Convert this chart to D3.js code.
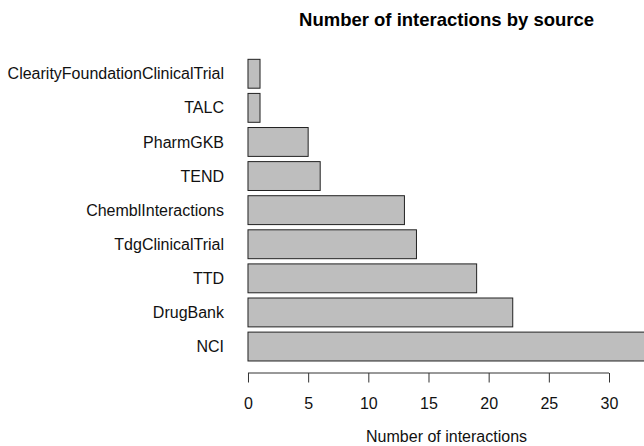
<!DOCTYPE html>
<html>
<head>
<meta charset="utf-8">
<script src="https://cdn.jsdelivr.net/npm/d3@7"></script>
<style>
  body { margin: 0; background: #fff; }
  svg { font-family: "Liberation Sans", Arial, sans-serif; }
</style>
</head>
<body>
<script>
// sources listed top to bottom, as drawn
const sources = ["ClearityFoundationClinicalTrial", "TALC", "PharmGKB", "TEND",
  "ChemblInteractions", "TdgClinicalTrial", "TTD", "DrugBank", "NCI"];
const counts = [1, 1, 5, 6, 13, 14, 19, 22, 33];
const tickValues = [0, 5, 10, 15, 20, 25, 30];

const width = 644, height = 446;

const svg = d3.select("body")
  .append("svg")
  .attr("width", width)
  .attr("height", height);

// R style: 4% padding around the data range
const x = d3.scaleLinear()
  .domain([-1.32, 34.32])
  .range([232.1, 661]);

const y = d3.scaleBand()
  .domain(sources)
  .range([54.1, 366.2])
  .padding(0.153);

svg.append("g")
  .selectAll("rect")
  .data(sources)
  .enter()
    .append("rect")
    .attr("x", x(0))
    .attr("y", d => y(d))
    .attr("width", (d, i) => x(counts[i]) - x(0))
    .attr("height", y.bandwidth())
    .attr("fill", "#bebebe")
    .attr("stroke", "#222")
    .attr("stroke-width", 1);

svg.append("g")
  .selectAll("text")
  .data(sources)
  .enter()
    .append("text")
    .attr("x", 224)
    .attr("y", d => y(d) + y.bandwidth() / 2)
    .attr("dy", "0.35em")
    .attr("text-anchor", "end")
    .attr("font-size", 16)
    .attr("fill", "#111")
    .text(d => d);

const axis = svg.append("g")
  .attr("transform", "translate(0,373)")
  .call(d3.axisBottom(x).tickValues(tickValues).tickSize(9.5).tickPadding(15).tickSizeOuter(0));

axis.select(".domain")
  .attr("d", `M${x(0)},0H${x(30)}`)
  .attr("stroke", "#333");
axis.selectAll(".tick line").attr("stroke", "#333");
axis.selectAll(".tick text")
  .attr("font-size", 16)
  .attr("font-family", "Liberation Sans, Arial, sans-serif")
  .attr("fill", "#111");

svg.append("text")
  .attr("x", (x.range()[0] + x.range()[1]) / 2)
  .attr("y", 441.5)
  .attr("text-anchor", "middle")
  .attr("font-size", 16)
  .attr("fill", "#111")
  .text("Number of interactions");

svg.append("text")
  .attr("x", (x.range()[0] + x.range()[1]) / 2)
  .attr("y", 26)
  .attr("text-anchor", "middle")
  .attr("font-size", 18.5)
  .attr("font-weight", "bold")
  .text("Number of interactions by source");
</script>
</body>
</html>
